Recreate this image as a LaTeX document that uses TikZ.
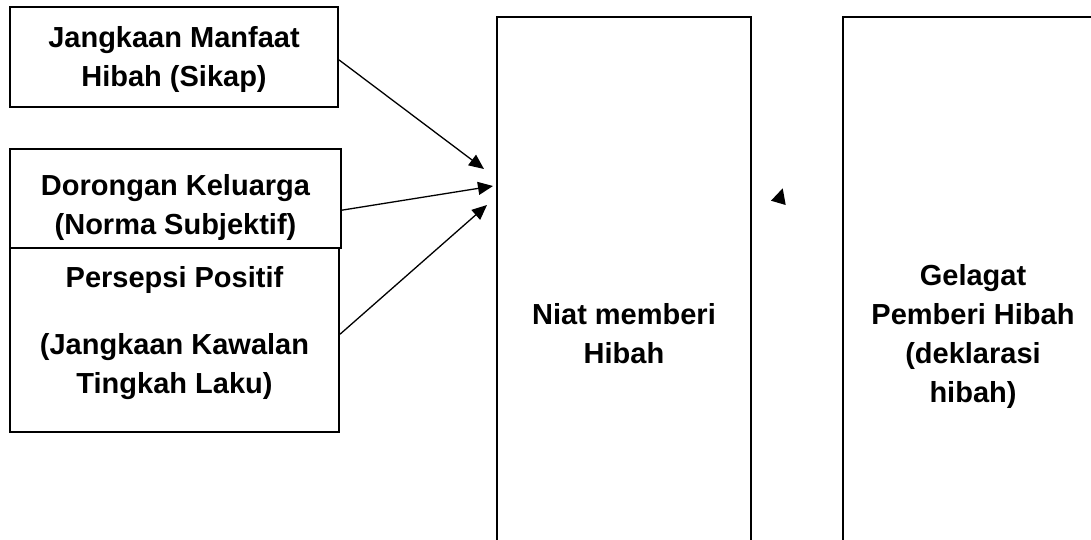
\documentclass[tikz,border=0pt]{standalone}
\usepackage{fontspec}
\setmainfont{Liberation Sans}
\usetikzlibrary{arrows.meta}
\tikzset{
  box/.style={draw=black, line width=2pt, rectangle, inner sep=0pt},
  lbl/.style={anchor=north, inner sep=0pt, align=center,
              font={\fontsize{29}{39}\selectfont\bfseries}},
  conn/.style={draw=black, line width=1.3pt, -{Triangle[length=15pt,width=13pt]}}
}
\begin{document}
\begin{tikzpicture}[x=1pt,y=-1pt]
\useasboundingbox (0,0) rectangle (1091,539);
\clip (0,0) rectangle (1091,539);
% left boxes
\node[box, minimum width=328pt, minimum height=100pt] (b1) at (174,57) {};
\node[box, minimum width=331pt, minimum height=99pt] (b2) at (175.5,198.5) {};
\node[box, minimum width=329pt, minimum height=184pt] (b3) at (174.5,340) {};
% right boxes
\node[box, minimum width=254pt, minimum height=643pt] (niat) at (624,338.5) {};
\node[box, minimum width=260pt, minimum height=643pt] (gel) at (973,338.5) {};
% texts
\node[lbl] (t1) at (174,26) {Jangkaan Manfaat\\Hibah (Sikap)};
\node[lbl] (t2) at (175.5,174) {Dorongan Keluarga\\(Norma Subjektif)};
\node[lbl] (t3) at (174.5,266) {Persepsi Positif\\[28pt](Jangkaan Kawalan\\Tingkah Laku)};
\node[lbl] (t4) at (624,303) {Niat memberi\\Hibah};
\node[lbl] (t5) at (973,264) {Gelagat\\Pemberi Hibah\\(deklarasi\\hibah)};
% arrow ends
\coordinate (e1) at (484,169);
\coordinate (e2) at (493,186);
\coordinate (e3) at (487,205);
\draw[conn] (b1.-1.75) -- (e1);
\draw[conn] (b2.-4.66) -- (e2);
\draw[conn] (b3.2.78) -- (e3);
% stray arrowhead
\fill[black] (771,200.7) -- (782.7,188.3) -- (785.7,205) -- cycle;
\end{tikzpicture}
\end{document}
